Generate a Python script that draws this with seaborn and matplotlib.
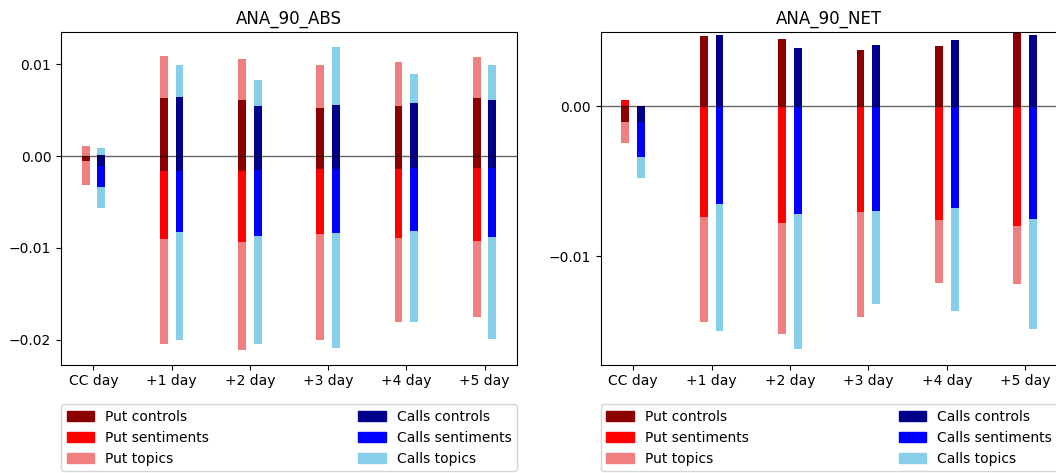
import numpy as np
import matplotlib
matplotlib.use('Agg')
import matplotlib.pyplot as plt
from matplotlib.patches import Patch
from matplotlib.ticker import MultipleLocator
import seaborn as sns

days = ['CC day', '+1 day', '+2 day', '+3 day', '+4 day', '+5 day']

# ANA_90_ABS - visible extent of each layer (hi above zero, lo below zero)
abs_put_topics_hi = [0.00113, 0.01095, 0.01058, 0.00996, 0.01025, 0.01084]
abs_put_topics_lo = [-0.00309, -0.02047, -0.02113, -0.02004, -0.01804, -0.01756]
abs_put_sentiments_hi = [0.0, 0.0, 0.0, 0.0, 0.0, 0.0]
abs_put_sentiments_lo = [0.0, -0.00902, -0.00935, -0.00844, -0.00891, -0.00924]
abs_put_controls_hi = [0.0, 0.00636, 0.00615, 0.00524, 0.00545, 0.00636]
abs_put_controls_lo = [-0.00051, -0.00164, -0.00156, -0.00138, -0.00138, -0.00127]

abs_calls_topics_hi = [0.00091, 0.00993, 0.00825, 0.01193, 0.00895, 0.00993]
abs_calls_topics_lo = [-0.00567, -0.02004, -0.02047, -0.02091, -0.01804, -0.01989]
abs_calls_sentiments_hi = [0.0, 0.0, 0.0, 0.0, 0.0, 0.0]
abs_calls_sentiments_lo = [-0.00331, -0.00822, -0.00869, -0.00833, -0.00811, -0.00876]
abs_calls_controls_hi = [0.00015, 0.00647, 0.00549, 0.00556, 0.00582, 0.00611]
abs_calls_controls_lo = [-0.00105, -0.00164, -0.00153, -0.00142, -0.00127, -0.00127]

# ANA_90_NET
net_put_topics_hi = [0.0, 0.0, 0.0, 0.0, 0.0, 0.0]
net_put_topics_lo = [-0.00242, -0.0144, -0.01522, -0.01409, -0.01182, -0.01189]
net_put_sentiments_hi = [0.0004, 0.0, 0.0, 0.0, 0.0, 0.0]
net_put_sentiments_lo = [0.0, -0.0074, -0.00782, -0.00707, -0.0076, -0.00796]
net_put_controls_hi = [0.0, 0.00471, 0.00451, 0.00376, 0.00402, 0.0052]
net_put_controls_lo = [-0.00102, 0.0, 0.0, 0.0, 0.0, 0.0]

net_calls_topics_hi = [0.0, 0.0, 0.0, 0.0, 0.0, 0.0]
net_calls_topics_lo = [-0.0048, -0.01502, -0.01618, -0.01318, -0.01367, -0.01489]
net_calls_sentiments_hi = [0.0, 0.0, 0.0, 0.0, 0.0, 0.0]
net_calls_sentiments_lo = [-0.0034, -0.00653, -0.0072, -0.007, -0.0068, -0.00753]
net_calls_controls_hi = [0.0, 0.00478, 0.00389, 0.00409, 0.00442, 0.00476]
net_calls_controls_lo = [-0.00107, 0.0, 0.0, 0.0, 0.0, 0.0]

put_colors = {'controls': 'darkred', 'sentiments': 'red', 'topics': 'lightcoral'}
calls_colors = {'controls': 'darkblue', 'sentiments': 'blue', 'topics': 'skyblue'}


def draw_side(ax, x, layers, colors):
    """Draw topics first, then sentiments, then controls on top"""
    for comp in ['topics', 'sentiments', 'controls']:
        hi, lo = layers[comp]
        for vals in (hi, lo):
            sns.barplot(x=x, y=vals, native_scale=True, width=0.1,
                        color=colors[comp], saturation=1, errorbar=None,
                        linewidth=0, edgecolor='none', ax=ax)


def draw_panel(ax, title, put_layers, calls_layers, ylim):
    pos = np.arange(len(days))
    draw_side(ax, pos - 0.1, put_layers, put_colors)
    draw_side(ax, pos + 0.1, calls_layers, calls_colors)
    ax.axhline(0, color='black', linewidth=1.0, alpha=0.6, zorder=3)
    ax.set_xlim(-0.415, 5.415)
    ax.set_ylim(*ylim)
    ax.set_xticks(pos)
    ax.set_xticklabels(days)
    ax.yaxis.set_major_locator(MultipleLocator(0.01))
    ax.set_xlabel('')
    ax.set_ylabel('')
    ax.set_title(title)

    handles = [Patch(color=put_colors['controls'], label='Put controls'),
               Patch(color=put_colors['sentiments'], label='Put sentiments'),
               Patch(color=put_colors['topics'], label='Put topics'),
               Patch(color=calls_colors['controls'], label='Calls controls'),
               Patch(color=calls_colors['sentiments'], label='Calls sentiments'),
               Patch(color=calls_colors['topics'], label='Calls topics')]
    ax.legend(handles=handles, ncol=2, loc='upper left', mode='expand',
              bbox_to_anchor=(0, -0.119, 1, 0), borderaxespad=0)


def main():
    fig = plt.figure(figsize=(10.56, 4.73), dpi=100)
    ax1 = fig.add_axes([61 / 1056, 108.5 / 473, 456 / 1056, 332.8 / 473])
    ax2 = fig.add_axes([600.7 / 1056, 108.5 / 473, 457 / 1056, 332.8 / 473])

    draw_panel(ax1, 'ANA_90_ABS',
               {'topics': (abs_put_topics_hi, abs_put_topics_lo),
                'sentiments': (abs_put_sentiments_hi, abs_put_sentiments_lo),
                'controls': (abs_put_controls_hi, abs_put_controls_lo)},
               {'topics': (abs_calls_topics_hi, abs_calls_topics_lo),
                'sentiments': (abs_calls_sentiments_hi, abs_calls_sentiments_lo),
                'controls': (abs_calls_controls_hi, abs_calls_controls_lo)},
               (-0.02269, 0.01356))

    draw_panel(ax2, 'ANA_90_NET',
               {'topics': (net_put_topics_hi, net_put_topics_lo),
                'sentiments': (net_put_sentiments_hi, net_put_sentiments_lo),
                'controls': (net_put_controls_hi, net_put_controls_lo)},
               {'topics': (net_calls_topics_hi, net_calls_topics_lo),
                'sentiments': (net_calls_sentiments_hi, net_calls_sentiments_lo),
                'controls': (net_calls_controls_hi, net_calls_controls_lo)},
               (-0.01724, 0.00498))

    fig.savefig('out.png', dpi=100)
    plt.close(fig)


if __name__ == "__main__":
    main()
